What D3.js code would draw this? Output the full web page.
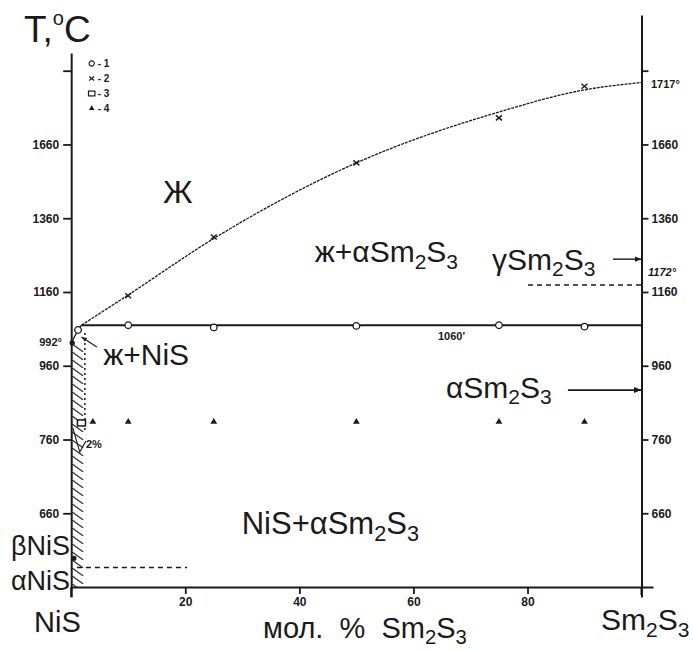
<!DOCTYPE html>
<html>
<head>
<meta charset="utf-8">
<script src="https://cdn.jsdelivr.net/npm/d3@7"></script>
<style>
  body { margin: 0; background: #fff; }
  svg text { font-family: "Liberation Sans", Arial, sans-serif; fill: #1a1a1a; }
</style>
</head>
<body>
<div id="chart"></div>
<script>
// x: mol.% Sm2S3, y: temperature (as drawn on the original scale)
var liquidus = [[1.8, 1070], [10, 1152], [25, 1305], [50, 1510], [75, 1648], [90, 1708], [100, 1728]];
var nisLiquidus = [[1.8, 1070], [1.2, 1057], [0, 1022]];
var eutectic = [[1.8, 1070], [100, 1070]];
var pts1 = [[1.2, 1057], [10, 1070], [25, 1064], [50, 1068], [75, 1070], [90, 1066]]; // o - 1
var pts2 = [[10, 1150], [25, 1309], [50, 1510], [75, 1632], [90, 1718]];              // x - 2
var pts3 = [[1.8, 805]];                                                              // square - 3
var pts4 = [[3.8, 808], [10, 808], [25, 808], [50, 808], [75, 808], [90, 808]];       // triangle - 4
var nisPoints = [[0, 1022], [0.3, 438]];
var gammaArrow = [[95, 1249], [100, 1249]];
var alphaArrow = [[87.1, 894], [100, 894]];
var dash1172 = [[80.1, 1179], [100, 1179]];
var dashNiS = [[1, 413], [20.3, 413]];
var solvus = [[2.4, 1049], [2.4, 786]];
var leader2 = [[0.3, 791], [1.5, 726], [2.6, 756]];
var leaderNiS = [[1.8, 1038], [4.5, 1011]];
var hatchBand = [[0, 1016], [2.2, 360]];

var xTicks = [20, 40, 60, 80];
var yTicks = [1760, 1560, 1360, 1160, 960, 760, 560];
var yTickLabels = ["", "1660", "1360", "1160", "960", "760", "660"];

// region labels: text ("_" marks a subscript digit), x %, T
var regions = [
  { text: "Ж", x: 16.1, t: 1401, size: 32 },
  { text: "ж+αSm_2S_3", x: 42.7, t: 1241, size: 30 },
  { text: "γSm_2S_3", x: 73.8, t: 1220, size: 30 },
  { text: "ж+NiS", x: 5.6, t: 962, size: 30 },
  { text: "αSm_2S_3", x: 65.7, t: 873, size: 30 },
  { text: "NiS+αSm_2S_3", x: 29.9, t: 503, size: 31 }
];
var legendItems = ["1", "2", "3", "4"];

var width = 693, height = 650;
var svg = d3.select("#chart").append("svg")
  .attr("width", width).attr("height", height);

var ink = "#1a1a1a";

// scales
var x = d3.scaleLinear().domain([0, 100]).range([71.2, 641.5]);
var xAxisScale = d3.scaleLinear().domain([0, 102]).range([71.2, 653]);
var y = d3.scaleLinear().domain([333, 1808]).range([597, 53]);
var yRight = d3.scaleLinear().domain([333, 1911]).range([597, 15]);

var line = d3.line().x(function (d) { return x(d[0]); }).y(function (d) { return y(d[1]); });
var curve = d3.line().x(function (d) { return x(d[0]); }).y(function (d) { return y(d[1]); })
  .curve(d3.curveMonotoneX);

// hatch pattern for NiS solid solution
var defs = svg.append("defs");
defs.append("pattern")
  .attr("id", "hatch")
  .attr("patternUnits", "userSpaceOnUse")
  .attr("x", x(0)).attr("y", 0)
  .attr("width", 14).attr("height", 8)
  .append("path")
  .attr("d", "M1,0 L12,8")
  .attr("stroke", ink).attr("stroke-width", 1.1);
defs.append("marker")
  .attr("id", "arrow")
  .attr("viewBox", "0 0 10 10").attr("refX", 10).attr("refY", 5)
  .attr("markerWidth", 5).attr("markerHeight", 5)
  .attr("orient", "auto")
  .append("path").attr("d", "M0,1 L10,5 L0,9 Z").attr("fill", ink);

svg.append("rect")
  .attr("x", x(hatchBand[0][0]))
  .attr("y", y(hatchBand[0][1]))
  .attr("width", x(hatchBand[1][0]) - x(hatchBand[0][0]))
  .attr("height", y(hatchBand[1][1]) - y(hatchBand[0][1]))
  .attr("fill", "url(#hatch)");

// axes
function styleAxis(g) {
  g.select(".domain").attr("stroke", ink).attr("stroke-width", 2);
  g.selectAll(".tick line").attr("stroke", ink).attr("stroke-width", 1.8);
  g.selectAll(".tick text")
    .attr("fill", ink)
    .style("font-family", '"Liberation Sans", Arial, sans-serif')
    .style("font-size", "12px")
    .style("font-weight", "bold");
}
svg.append("g")
  .attr("transform", "translate(" + x(0) + ",0)")
  .call(d3.axisLeft(y).tickValues(yTicks).tickSize(8).tickSizeOuter(0).tickPadding(4)
    .tickFormat(function (d, i) { return yTickLabels[i]; }))
  .call(styleAxis);
svg.append("g")
  .attr("transform", "translate(" + x(100) + ",0)")
  .call(d3.axisRight(yRight).tickValues(yTicks).tickSize(7).tickSizeOuter(0).tickPadding(3)
    .tickFormat(function (d, i) { return yTickLabels[i]; }))
  .call(styleAxis);
svg.append("g")
  .attr("transform", "translate(0," + y(360) + ")")
  .call(d3.axisBottom(xAxisScale).tickValues(xTicks).tickSize(7).tickSizeOuter(0).tickPadding(3))
  .call(styleAxis);
// axis stubs below the x axis
svg.append("path").attr("d", line([[0, 360], [0, 333]])).attr("stroke", ink).attr("stroke-width", 2);
svg.append("path").attr("d", line([[100, 360], [100, 338]])).attr("stroke", ink).attr("stroke-width", 2);

// phase boundaries
svg.append("path").attr("d", curve(liquidus))
  .attr("fill", "none").attr("stroke", ink).attr("stroke-width", 1.3).attr("stroke-dasharray", "3,1");
svg.append("path").attr("d", line(nisLiquidus))
  .attr("fill", "none").attr("stroke", ink).attr("stroke-width", 1.3);
svg.append("path").attr("d", line(eutectic))
  .attr("fill", "none").attr("stroke", ink).attr("stroke-width", 2);
svg.append("path").attr("d", line(solvus))
  .attr("fill", "none").attr("stroke", ink).attr("stroke-width", 1.5).attr("stroke-dasharray", "2,3");
svg.append("path").attr("d", line(dash1172))
  .attr("fill", "none").attr("stroke", ink).attr("stroke-width", 1.3).attr("stroke-dasharray", "5,4");
svg.append("path").attr("d", line(dashNiS))
  .attr("fill", "none").attr("stroke", ink).attr("stroke-width", 1.3).attr("stroke-dasharray", "5,4");
svg.append("path").attr("d", line(gammaArrow))
  .attr("fill", "none").attr("stroke", ink).attr("stroke-width", 1.4).attr("marker-end", "url(#arrow)");
svg.append("path").attr("d", line(alphaArrow))
  .attr("fill", "none").attr("stroke", ink).attr("stroke-width", 1.6).attr("marker-end", "url(#arrow)");
svg.append("path").attr("d", line(leader2))
  .attr("fill", "none").attr("stroke", ink).attr("stroke-width", 1.1);
svg.append("path").attr("d", line(leaderNiS.slice().reverse()))
  .attr("fill", "none").attr("stroke", ink).attr("stroke-width", 1.1).attr("marker-end", "url(#arrow)");

// experimental points
function drawMarker(g, type) {
  if (type === "1") {
    g.append("circle").attr("r", 3.3).attr("fill", "#fff").attr("stroke", ink).attr("stroke-width", 1.3);
  } else if (type === "2") {
    g.append("path").attr("d", "M-3,-2.5L3,2.5M-3,2.5L3,-2.5")
      .attr("stroke", ink).attr("stroke-width", 1.4);
  } else if (type === "3") {
    g.append("rect").attr("x", -4).attr("y", -3).attr("width", 8).attr("height", 6)
      .attr("fill", "#fff").attr("stroke", ink).attr("stroke-width", 1.5);
  } else {
    g.append("path").attr("d", d3.symbol(d3.symbolTriangle).size(20)).attr("fill", ink);
  }
}
[[pts1, "1"], [pts2, "2"], [pts3, "3"], [pts4, "4"]].forEach(function (s) {
  svg.selectAll(null)
    .data(s[0])
    .enter()
    .append("g")
    .attr("transform", function (d) { return "translate(" + x(d[0]) + "," + y(d[1]) + ")"; })
    .each(function () { drawMarker(d3.select(this), s[1]); });
});
svg.selectAll(null)
  .data(nisPoints)
  .enter()
  .append("circle")
  .attr("cx", function (d) { return x(d[0]) + 1; })
  .attr("cy", function (d) { return y(d[1]); })
  .attr("r", 2.6)
  .attr("fill", ink);

// legend
legendItems.forEach(function (k, i) {
  var g = svg.append("g").attr("transform", "translate(91.7," + (63.5 + i * 15) + ")");
  var m = g.append("g").attr("transform", "scale(0.8)");
  drawMarker(m, k);
  g.append("text").attr("x", 6).attr("y", 3.5)
    .style("font-size", "10px").style("font-weight", "bold")
    .text("- " + k);
});

// text with subscript digits
function richText(sel, str, size) {
  var parts = str.split(/(_\d)/).filter(function (p) { return p.length; });
  var shift = 0;
  parts.forEach(function (p) {
    if (p.charAt(0) === "_") {
      sel.append("tspan").attr("dy", size * 0.22).style("font-size", (size * 0.7) + "px").text(p.slice(1));
      shift = size * 0.22;
    } else {
      sel.append("tspan").attr("dy", -shift).text(p);
      shift = 0;
    }
  });
}

regions.forEach(function (r) {
  var t = svg.append("text")
    .attr("x", x(r.x)).attr("y", y(r.t))
    .style("font-size", r.size + "px");
  richText(t, r.text, r.size);
});

// outer labels
var big = 29;
var t1 = svg.append("text").attr("x", 24).attr("y", 42).style("font-size", "37px");
t1.append("tspan").text("T,");
t1.append("tspan").attr("dy", -17).style("font-size", "20px").text("o");
t1.append("tspan").attr("dy", 17).text("C");

svg.append("text").attr("x", 34).attr("y", 632).style("font-size", big + "px").text("NiS");
richText(svg.append("text").attr("x", 601).attr("y", 630).style("font-size", "30px"), "Sm_2S_3", 30);
richText(svg.append("text").attr("x", 263).attr("y", 638).style("font-size", big + "px")
  .attr("xml:space", "preserve"), "мол.  %  Sm_2S_3", big);
svg.append("text").attr("x", 11).attr("y", 555).style("font-size", "27px").text("βNiS");
svg.append("text").attr("x", 11).attr("y", 590).style("font-size", "27px").text("αNiS");

// small temperature notes
var notes = [
  { text: "992°", x: 62, y: 346, anchor: "end", italic: false },
  { text: "1060'", x: 438, y: 340, anchor: "start", italic: false },
  { text: "1717°", x: 651, y: 88, anchor: "start", italic: false },
  { text: "1172°", x: 648, y: 276, anchor: "start", italic: true },
  { text: "2%", x: 86, y: 448, anchor: "start", italic: false }
];
notes.forEach(function (n) {
  svg.append("text")
    .attr("x", n.x).attr("y", n.y)
    .attr("text-anchor", n.anchor)
    .style("font-size", "11px").style("font-weight", "bold")
    .style("font-style", n.italic ? "italic" : "normal")
    .text(n.text);
});
</script>
</body>
</html>
